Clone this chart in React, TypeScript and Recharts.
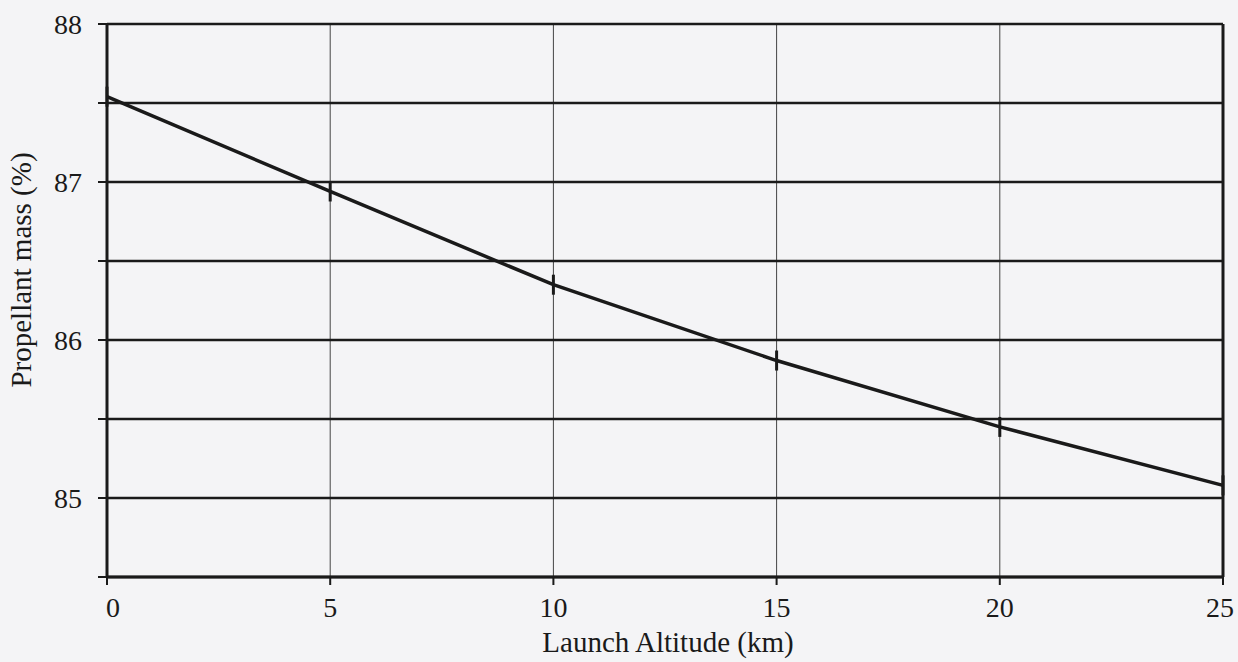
import React from 'react';
import { LineChart, Line, XAxis, YAxis, CartesianGrid, ReferenceLine, Label } from 'recharts';

const altitudes = [0, 5, 10, 15, 20, 25];
const propellantMass = [87.54, 86.94, 86.35, 85.87, 85.45, 85.08];
const xTicks = [0, 5, 10, 15, 20, 25];
const yTicks = [84.5, 85, 85.5, 86, 86.5, 87, 87.5, 88];

const data = altitudes.map((a, i) => ({ alt: a, mass: propellantMass[i] }));

const FONT = '"Liberation Serif", "Times New Roman", serif';
const INK = '#1a1a1a';

const TickDot = (props: any) => {
  const { cx, cy } = props;
  if (cx == null || cy == null) return null;
  return <line x1={cx} x2={cx} y1={cy - 10} y2={cy + 10} stroke={INK} strokeWidth={3} />;
};

const XTick = (props: any) => {
  const { x, y, payload } = props;
  const dx = payload.value === 0 ? 6 : payload.value === 25 ? -3 : 0;
  return (
    <text x={x + dx} y={y + 30} textAnchor="middle" fill={INK} fontFamily={FONT} fontSize={28}>
      {payload.value}
    </text>
  );
};

const YTick = (props: any) => {
  const { x, y, payload } = props;
  if (!Number.isInteger(payload.value)) return null;
  return (
    <text x={x - 14} y={y} textAnchor="end" dominantBaseline="central" fill={INK} fontFamily={FONT} fontSize={28}>
      {payload.value}
    </text>
  );
};

export default function App() {
  return (
    <div style={{ position: 'absolute', left: 0, top: 0, width: 1238, height: 662, background: '#f4f4f6' }}>
      <LineChart
        width={1238}
        height={662}
        data={data}
        margin={{ top: 24, right: 15, bottom: 0, left: 0 }}
      >
        <CartesianGrid horizontal={false} vertical={true} stroke="#444" strokeWidth={1} verticalValues={xTicks} />
        <CartesianGrid horizontal={true} vertical={false} stroke={INK} strokeWidth={2.5} horizontalValues={yTicks} />
        <XAxis
          dataKey="alt"
          type="number"
          domain={[0, 25]}
          ticks={xTicks}
          height={85}
          stroke={INK}
          strokeWidth={3}
          tickSize={8}
          tickLine={{ stroke: INK, strokeWidth: 2 }}
          tick={<XTick />}
        >
          <Label
            content={() => (
              <text x={668} y={652} textAnchor="middle" fill={INK} fontFamily={FONT} fontSize={29}>
                Launch Altitude (km)
              </text>
            )}
          />
        </XAxis>
        <YAxis
          type="number"
          domain={[84.5, 88]}
          ticks={yTicks}
          width={107}
          stroke={INK}
          strokeWidth={3}
          tickSize={9}
          tickLine={{ stroke: INK, strokeWidth: 2 }}
          tick={<YTick />}
          interval={0}
        >
          <Label
            content={() => (
              <text
                x={24}
                y={270}
                transform="rotate(-90 24 270)"
                textAnchor="middle"
                dominantBaseline="middle"
                fill={INK}
                fontFamily={FONT}
                fontSize={29}
              >
                Propellant mass (%)
              </text>
            )}
          />
        </YAxis>
        <ReferenceLine x={25} stroke={INK} strokeWidth={3} />
        <Line
          type="linear"
          dataKey="mass"
          stroke={INK}
          strokeWidth={3.5}
          dot={<TickDot />}
          activeDot={false}
          isAnimationActive={false}
        />
      </LineChart>
    </div>
  );
}
